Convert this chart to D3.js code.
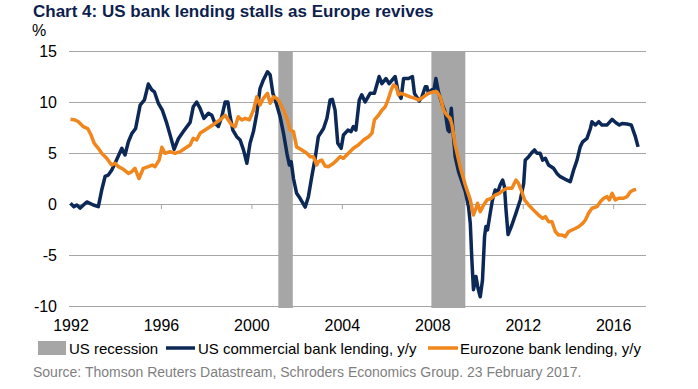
<!DOCTYPE html>
<html>
<head>
<meta charset="utf-8">
<script src="https://cdn.jsdelivr.net/npm/d3@7"></script>
<style>
  body { margin: 0; background: #fff; }
  svg { font-family: "Liberation Sans", Arial, sans-serif; }
</style>
</head>
<body>
<div id="chart"></div>
<script>
// dữ liệu (năm dạng thập phân, % y/y)
var usDates = [1992.00,1992.15,1992.28,1992.42,1992.72,1993.01,1993.23,1993.38,1993.53,1993.67,1993.82,1993.97,
  1994.27,1994.41,1994.56,1994.71,1994.88,1995.08,1995.27,1995.44,1995.59,1995.71,1995.88,1996.06,1996.26,1996.40,
  1996.58,1996.77,1996.99,1997.29,1997.43,1997.58,1997.73,1997.90,1998.10,1998.25,1998.39,1998.54,1998.69,1998.84,
  1998.96,1999.06,1999.18,1999.35,1999.50,1999.65,1999.80,1999.94,2000.09,2000.24,2000.38,2000.53,2000.71,2000.83,
  2000.95,2001.10,2001.27,2001.42,2001.57,2001.68,2001.76,2001.86,2002.00,2002.15,2002.38,2002.52,2002.67,2002.82,
  2002.96,2003.19,2003.34,2003.48,2003.58,2003.70,2003.82,2003.97,2004.07,2004.27,2004.41,2004.51,2004.62,2004.77,
  2004.88,2005.03,2005.25,2005.44,2005.65,2005.77,2005.95,2006.09,2006.36,2006.50,2006.62,2006.73,2006.95,2007.12,
  2007.21,2007.42,2007.54,2007.69,2007.76,2007.83,2007.98,2008.08,2008.16,2008.27,2008.42,2008.57,2008.69,2008.75,
  2008.84,2008.89,2009.01,2009.16,2009.31,2009.46,2009.60,2009.68,2009.75,2009.82,2009.93,2010.02,2010.12,2010.22,
  2010.31,2010.37,2010.44,2010.56,2010.66,2010.78,2010.90,2011.00,2011.11,2011.19,2011.26,2011.35,2011.52,2011.70,
  2011.89,2012.04,2012.11,2012.26,2012.43,2012.52,2012.63,2012.77,2012.88,2013.00,2013.14,2013.36,2013.51,2013.66,
  2013.88,2014.10,2014.25,2014.40,2014.54,2014.65,2014.84,2014.99,2015.06,2015.21,2015.36,2015.50,2015.73,2015.95,
  2016.12,2016.27,2016.39,2016.61,2016.80,2016.98,2017.10];
var usValues = [0.07,-0.26,-0.1,-0.4,0.2,-0.1,-0.26,1.37,2.7,2.84,3.3,4.0,
  5.46,4.8,6.1,6.9,7.4,9.7,10.2,11.76,11.2,11.0,9.9,9.2,7.9,6.8,
  5.36,6.4,7.1,8.0,9.54,10.0,9.38,8.4,8.9,8.7,7.9,7.6,8.56,10.0,
  10.0,8.56,7.25,6.6,6.27,5.3,4.0,5.95,7.1,8.9,11.3,12.16,12.97,12.65,
  10.85,9.87,8.56,6.93,4.97,3.82,4.15,2.5,1.05,0.56,-0.3,0.72,2.68,4.5,
  6.6,7.4,8.4,10.2,10.26,9.2,5.95,5.46,6.76,7.25,7.1,7.6,7.25,10.2,
  10.7,10.0,10.85,10.85,12.5,11.8,12.3,11.8,12.5,10.85,10.36,12.3,12.3,12.5,
  10.85,10.1,10.5,11.5,11.5,10.85,11.2,11.3,12.3,11.0,9.87,9.0,7.25,7.1,
  9.38,7.9,4.64,3.17,2.19,1.2,-0.26,-1.9,-5.5,-8.4,-7.1,-8.26,-9.1,-7.45,
  -3.2,-2.2,-2.55,-0.9,0.4,1.37,1.2,1.86,2.35,1.7,-0.6,-3.0,-2.06,-0.9,
  0.4,2.0,4.3,4.64,5.1,5.3,4.97,4.97,4.3,4.48,3.82,3.5,3.0,2.68,
  2.42,2.19,3.33,4.3,5.6,6.1,6.44,7.4,8.07,7.75,8.07,7.75,7.75,8.3,
  7.97,7.75,7.9,7.84,7.75,6.6,5.6];

var euDates = [1992.00,1992.20,1992.35,1992.57,1992.76,1992.91,1993.05,1993.23,1993.38,1993.60,1993.82,1993.97,
  1994.12,1994.34,1994.56,1994.71,1994.85,1995.03,1995.22,1995.44,1995.62,1995.74,1995.92,1996.04,1996.18,1996.40,
  1996.62,1996.85,1997.07,1997.29,1997.43,1997.58,1997.73,1997.95,1998.17,1998.39,1998.61,1998.84,1998.98,1999.13,
  1999.28,1999.42,1999.58,1999.72,1999.91,2000.09,2000.24,2000.38,2000.53,2000.71,2000.83,2000.97,2001.12,2001.24,
  2001.42,2001.59,2001.71,2001.86,2002.00,2002.23,2002.45,2002.60,2002.74,2002.89,2002.96,2003.11,2003.26,2003.41,
  2003.63,2003.78,2003.92,2004.07,2004.29,2004.51,2004.73,2004.96,2005.18,2005.33,2005.44,2005.62,2005.77,2005.92,
  2006.04,2006.18,2006.28,2006.40,2006.50,2006.62,2006.80,2007.02,2007.24,2007.39,2007.61,2007.83,2008.05,2008.20,
  2008.35,2008.50,2008.65,2008.79,2008.87,2009.01,2009.23,2009.46,2009.68,2009.82,2009.93,2010.00,2010.12,2010.27,
  2010.42,2010.61,2010.78,2010.96,2011.15,2011.30,2011.52,2011.70,2011.81,2011.93,2012.08,2012.26,2012.48,2012.70,
  2012.88,2013.00,2013.14,2013.29,2013.44,2013.58,2013.73,2013.88,2014.03,2014.18,2014.32,2014.47,2014.65,2014.77,
  2014.91,2015.06,2015.28,2015.43,2015.58,2015.73,2015.83,2015.95,2016.09,2016.24,2016.46,2016.61,2016.76,2016.90,
  2017.01];
var euValues = [8.3,8.24,8.07,7.58,7.4,6.76,5.95,5.46,4.97,4.48,3.82,4.0,
  3.66,3.4,3.0,3.17,3.5,2.5,3.5,3.66,3.82,3.66,4.3,5.56,4.97,5.13,
  4.97,5.13,5.46,5.78,6.44,6.27,6.93,7.25,7.58,7.9,8.24,8.7,8.24,7.75,
  7.58,8.56,8.24,8.4,8.24,9.2,10.5,9.7,10.36,10.85,9.87,10.5,10.36,10.0,
  9.2,8.24,7.25,7.1,5.6,5.3,4.97,4.64,4.64,3.82,4.15,4.3,3.72,3.66,
  4.0,4.3,4.64,4.48,4.97,5.46,5.78,6.27,6.6,6.93,8.24,8.7,9.2,9.54,
  10.2,11.18,11.67,11.5,10.7,10.85,10.7,10.5,10.36,10.2,10.5,10.85,11.0,11.0,
  10.5,9.2,8.7,8.4,7.75,5.8,3.66,1.86,0.4,-1.08,-0.42,0.07,-0.75,-0.1,
  0.4,0.56,0.88,1.05,1.37,1.54,1.54,2.35,2.03,1.37,0.4,-0.1,-0.6,-1.08,
  -1.4,-1.24,-1.73,-1.73,-2.7,-3.04,-3.04,-3.2,-2.7,-2.55,-2.4,-2.23,-1.9,-1.57,
  -0.9,-0.42,-0.26,0.23,0.56,0.72,0.4,1.05,0.4,0.56,0.56,0.72,1.2,1.37,
  1.44];

// các đợt suy thoái của Mỹ (NBER)
var recessionStart = [2001.19, 2007.96];
var recessionEnd = [2001.83, 2009.46];

var yTicks = [-10, -5, 0, 5, 10, 15];
var xTicks = [1992, 1996, 2000, 2004, 2008, 2012, 2016];

var legendLabels = ["US recession", "US commercial bank lending, y/y", "Eurozone bank lending, y/y"];

var width = 698, height = 389;
var plotLeft = 69, plotRight = 646, plotTop = 51, plotBottom = 306;

var navy = "#0c2857", orange = "#f0861c", grey = "#a6a6a6";

var svg = d3.select("#chart").append("svg")
    .attr("width", width)
    .attr("height", height);

var x = d3.scaleLinear().domain([1992, 2017.45]).range([plotLeft + 1.5, plotRight]);
var y = d3.scaleLinear().domain([-10, 15]).range([plotBottom, plotTop]);

// tiêu đề
svg.append("text")
    .attr("x", 33).attr("y", 17)
    .attr("font-size", 17).attr("font-weight", "bold")
    .attr("fill", "#0d1f4e")
    .text("Chart 4: US bank lending stalls as Europe revives");

svg.append("text")
    .attr("x", 32).attr("y", 36)
    .attr("font-size", 16).attr("fill", "#000")
    .text("%");

// lưới ngang
var grid = svg.append("g")
    .attr("transform", "translate(" + plotLeft + ",0)")
    .call(d3.axisLeft(y).tickValues(yTicks).tickSize(-(plotRight - plotLeft)).tickFormat(function(d) { return d; }));
grid.select(".domain").remove();
grid.selectAll("line").attr("stroke", "#a6a6a6").attr("stroke-width", 1);
grid.selectAll("text")
    .attr("x", -12)
    .attr("font-size", 16).attr("fill", "#000")
    .attr("font-family", "Liberation Sans, Arial, sans-serif");

// vạch chia ở đường 0
var tickAxis = svg.append("g")
    .attr("transform", "translate(0," + y(0) + ")")
    .call(d3.axisBottom(x).tickValues(xTicks.slice(1)).tickSize(5).tickFormat(""));
tickAxis.select(".domain").remove();
tickAxis.selectAll("line").attr("stroke", "#a6a6a6");

// nhãn năm ở dưới cùng
var labelAxis = svg.append("g")
    .attr("transform", "translate(0," + plotBottom + ")")
    .call(d3.axisBottom(x).tickValues(xTicks).tickSize(0).tickFormat(d3.format("d")));
labelAxis.select(".domain").remove();
labelAxis.selectAll("text")
    .attr("dy", 0).attr("y", 25)
    .attr("font-size", 16).attr("fill", "#000")
    .attr("font-family", "Liberation Sans, Arial, sans-serif");

// vùng suy thoái
svg.selectAll(".recession")
    .data(recessionStart)
    .enter().append("rect")
    .attr("class", "recession")
    .attr("x", function(d) { return x(d); })
    .attr("width", function(d, i) { return x(recessionEnd[i]) - x(d); })
    .attr("y", y(15) + 1)
    .attr("height", y(-10) - y(15) + 1)
    .attr("fill", grey);

var line = d3.line()
    .x(function(d) { return x(d[0]); })
    .y(function(d) { return y(d[1]); });

var usData = usDates.map(function(d, i) { return [d, usValues[i]]; });
var euData = euDates.map(function(d, i) { return [d, euValues[i]]; });

svg.append("path")
    .datum(usData)
    .attr("d", line)
    .attr("fill", "none")
    .attr("stroke", navy)
    .attr("stroke-width", 3.5)
    .attr("stroke-linejoin", "round");

svg.append("path")
    .datum(euData)
    .attr("d", line)
    .attr("fill", "none")
    .attr("stroke", orange)
    .attr("stroke-width", 3.5)
    .attr("stroke-linejoin", "round");

// chú thích
var ly = 348;
svg.append("rect").attr("x", 38).attr("y", ly - 7).attr("width", 28).attr("height", 14).attr("fill", grey);
svg.append("text").attr("x", 69).attr("y", ly + 5.5).attr("font-size", 15).text(legendLabels[0]);
svg.append("line").attr("x1", 166).attr("x2", 195).attr("y1", ly).attr("y2", ly)
    .attr("stroke", navy).attr("stroke-width", 3.5);
svg.append("text").attr("x", 198).attr("y", ly + 5.5).attr("font-size", 15).text(legendLabels[1]);
svg.append("line").attr("x1", 428).attr("x2", 458).attr("y1", ly).attr("y2", ly)
    .attr("stroke", orange).attr("stroke-width", 3.5);
svg.append("text").attr("x", 460).attr("y", ly + 5.5).attr("font-size", 15).text(legendLabels[2]);

// nguồn
svg.append("text")
    .attr("x", 33).attr("y", 377)
    .attr("font-size", 14).attr("fill", "#7f7f7f")
    .text("Source: Thomson Reuters Datastream, Schroders Economics Group. 23 February 2017.");
</script>
</body>
</html>
